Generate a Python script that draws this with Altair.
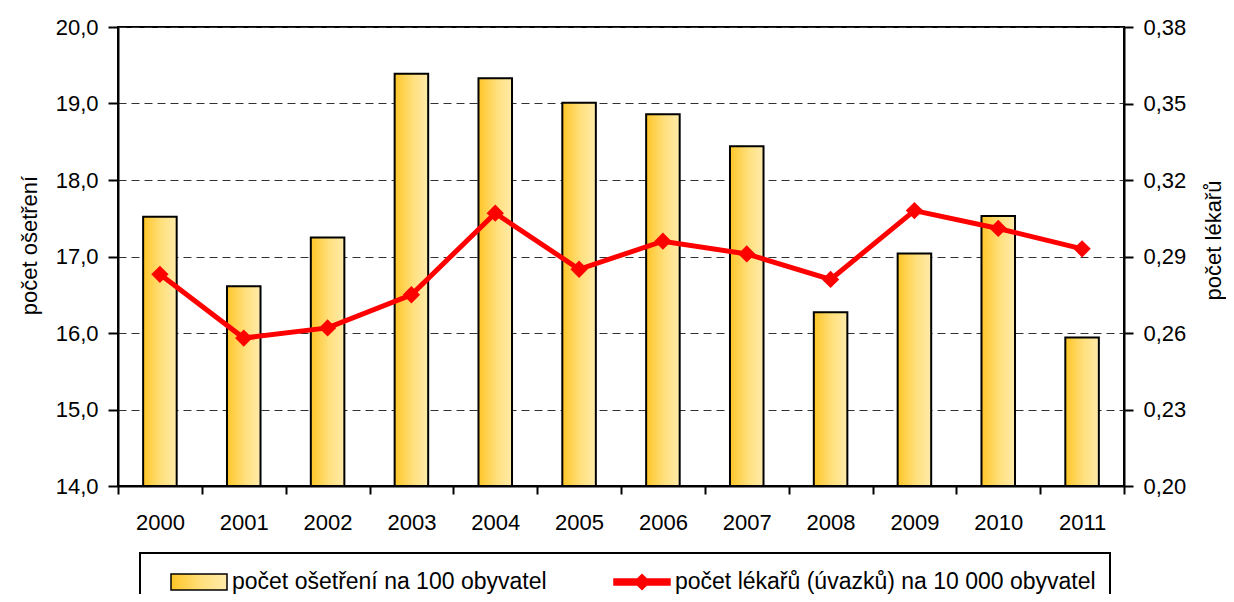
import altair as alt
import pandas as pd

FONT = "Liberation Sans"

years = ["2000", "2001", "2002", "2003", "2004", "2005",
         "2006", "2007", "2008", "2009", "2010", "2011"]
treatments = [17.52, 16.61, 17.25, 19.39, 19.33, 19.01,
              18.86, 18.44, 16.27, 17.04, 17.53, 15.94]
doctors = [0.283, 0.258, 0.262, 0.275, 0.307, 0.285,
           0.296, 0.291, 0.281, 0.308, 0.301, 0.293]
series_names = ["počet ošetření na 100 obyvatel",
                "počet lékařů (úvazků) na 10 000 obyvatel"]
left_ticks = [14, 15, 16, 17, 18, 19, 20]
right_ticks = [0.20, 0.23, 0.26, 0.29, 0.32, 0.35, 0.38]

df_bar = pd.DataFrame({"rok": years, "osetreni": treatments})
df_line = pd.DataFrame({"rok": years, "lekari": doctors})
df_leg = pd.DataFrame({"serie": series_names})

x_enc = alt.X(
    "rok:N", sort=years,
    scale=alt.Scale(paddingInner=0, paddingOuter=0),
    axis=alt.Axis(title=None, tickBand="extent", labelAngle=0, tickSize=8,
                  labelPadding=18, grid=False),
)

grad = alt.Gradient(
    gradient="linear",
    stops=[alt.GradientStop(color="#FFC526", offset=0),
           alt.GradientStop(color="#FFE07E", offset=0.55),
           alt.GradientStop(color="#FFEBAA", offset=1)],
    x1=0, x2=1, y1=0, y2=0,
)

left_scale = alt.Scale(domain=[14, 20], nice=False, zero=False)
right_scale = alt.Scale(domain=[0.20, 0.38], nice=False, zero=False)

bars = alt.Chart(df_bar).mark_bar(
    fill=grad, stroke="black", strokeWidth=2,
    width=alt.RelativeBandSize(0.4),
).encode(
    x=x_enc,
    y=alt.Y("osetreni:Q", scale=left_scale,
            axis=alt.Axis(orient="left", title="počet ošetření", values=left_ticks,
                          labelExpr="replace(format(datum.value, '.1f'), '.', ',')",
                          grid=True, gridDash=[8, 5], gridColor="#333333", gridWidth=1,
                          tickSize=10, labelPadding=10, titlePadding=14, titleY=218)),
    y2=alt.datum(14),
)

right_axis = alt.Axis(orient="right", title="počet lékařů", values=right_ticks,
                      labelExpr="replace(format(datum.value, '.2f'), '.', ',')",
                      grid=False, tickSize=9, labelPadding=10, titlePadding=18,
                      titleAngle=270, titleBaseline="top", titleY=213)

line = alt.Chart(df_line).mark_line(color="#FF0000", strokeWidth=5).encode(
    x=x_enc,
    y=alt.Y("lekari:Q", scale=right_scale, axis=right_axis),
)
pts = alt.Chart(df_line).mark_point(shape="diamond", filled=True, color="#FF0000",
                                    size=300, opacity=1).encode(
    x=x_enc,
    y=alt.Y("lekari:Q", scale=right_scale, axis=right_axis),
)

path_a = "M-2,-0.57H2V0.57H-2Z"
path_b = "M-2,-0.21H-0.33L0,-0.54L0.33,-0.21H2V0.21H0.33L0,0.54L-0.33,0.21H-2Z"
grad_expr = ("{gradient:'linear',x1:0,y1:0,x2:1,y2:0,stops:["
             "{offset:0,color:'#FFC526'},{offset:0.55,color:'#FFE07E'},"
             "{offset:1,color:'#FFEBAA'}]}")

leg_def = alt.Legend(
    title=None, orient="none", legendX=22, legendY=526, direction="horizontal",
    padding=14, strokeColor="black", symbolSize=784, symbolOpacity=1,
    symbolStrokeWidth=1.5, symbolOffset=30, labelOffset=18, columnPadding=50,
    labelFont=FONT, labelFontSize=23, labelColor="black", labelLimit=0,
)

leg = alt.Chart(df_leg).mark_point(opacity=0, filled=True, strokeWidth=1.5).encode(
    fill=alt.Fill("serie:N", scale=alt.Scale(domain=series_names,
                                             range=[alt.ExprRef(grad_expr), "#FF0000"]),
                  legend=leg_def),
    stroke=alt.Stroke("serie:N", scale=alt.Scale(domain=series_names,
                                                 range=["#000000", "#FF0000"]),
                      legend=leg_def),
    shape=alt.Shape("serie:N", scale=alt.Scale(domain=series_names,
                                               range=[path_a, path_b]),
                    legend=leg_def),
)

right = alt.layer(line, pts)

chart = alt.layer(bars, right, leg).resolve_scale(y="independent").properties(
    width=1006, height=459,
    autosize=alt.AutoSizeParams(type="none"),
    padding={"left": 110, "top": 19, "right": 102, "bottom": 108},
).configure_view(
    stroke="black", strokeWidth=2,
).configure_axis(
    labelFont=FONT, labelFontSize=22, labelColor="black",
    titleFont=FONT, titleFontSize=22, titleColor="black", titleFontWeight="normal",
    domainColor="black", domainWidth=2, tickColor="black", tickWidth=2,
).configure_legend(
    strokeWidth=2,
)

chart.save("out.html", embed_options={"renderer": "svg", "actions": False})
